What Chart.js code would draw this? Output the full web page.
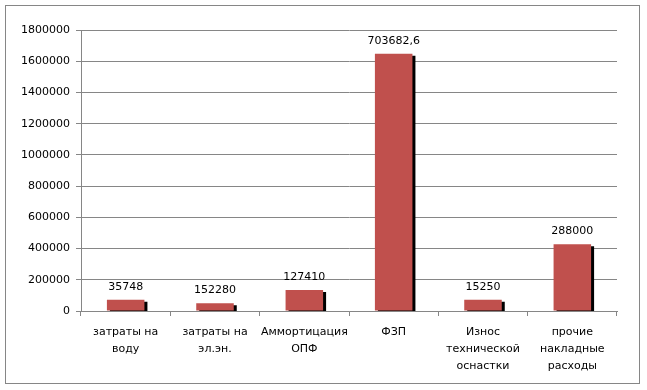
<!DOCTYPE html>
<html><head><meta charset="utf-8">
<script src="https://cdn.jsdelivr.net/npm/chart.js@4/dist/chart.umd.min.js"></script>
<style>html,body{margin:0;padding:0;background:#fff}#w{width:647px;height:390px}</style>
</head><body><div id="w"><canvas id="c" width="647" height="390"></canvas></div>
<script>
const categories = [["затраты на","воду"],["затраты на","эл.эн."],["Аммортицация","ОПФ"],"ФЗП",["Износ","технической","оснастки"],["прочие","накладные","расходы"]];
const barValues = [72000, 50000, 135000, 1648000, 72000, 428000];
const valueLabels = ["35748","152280","127410","703682,6","15250","288000"];
const yMin = 0, yMax = 1800000, yStep = 200000;

const frame = {id:'frame', afterDraw(ch){const c=ch.ctx;c.save();c.strokeStyle='#868686';c.lineWidth=1;c.strokeRect(5.5,5.5,634,378);c.restore();}};
const shadow = {id:'shadow',
  beforeDatasetDraw(ch){const c=ch.ctx;c.save();c.shadowColor='#000';c.shadowOffsetX=3;c.shadowOffsetY=2;c.shadowBlur=0;},
  afterDatasetDraw(ch){ch.ctx.restore();}};
const labels = {id:'vlabels', afterDatasetsDraw(ch){
  const c=ch.ctx; const meta=ch.getDatasetMeta(0);
  c.save(); c.font='11px "DejaVu Sans"'; c.fillStyle='#000'; c.textAlign='center'; c.textBaseline='alphabetic';
  meta.data.forEach((b,i)=>{c.fillText(valueLabels[i], b.x, b.y-10);});
  c.restore();}};

new Chart(document.getElementById('c'),{
  type:'bar',
  data:{labels:categories, datasets:[{data:barValues, backgroundColor:'#C0504D', borderWidth:0, barPercentage:0.42, categoryPercentage:1}]},
  options:{responsive:false, animation:false, devicePixelRatio:1,
    layout:{padding:{top:30,right:30,left:10,bottom:0}},
    plugins:{legend:{display:false},tooltip:{enabled:false}},
    scales:{
      x:{grid:{drawOnChartArea:false,drawTicks:true,tickLength:5,color:'#868686',offset:true},
         border:{color:'#868686'},
         ticks:{color:'#000',font:{family:'DejaVu Sans',size:11,lineHeight:1.55},padding:8,maxRotation:0,autoSkip:false},
         afterFit(s){s.height=79;}},
      y:{min:yMin,max:yMax,grid:{color:'#868686',tickLength:5},border:{color:'#868686'},
         ticks:{stepSize:yStep,color:'#000',font:{family:'DejaVu Sans',size:11},padding:6,callback:v=>String(v)},
         afterFit(s){s.width=71;}}
    }},
  plugins:[frame,shadow,labels]
});
</script></body></html>
